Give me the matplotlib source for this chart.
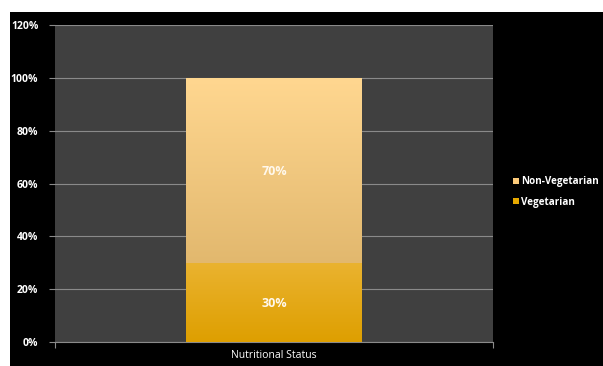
import matplotlib.pyplot as plt
import numpy as np
from matplotlib.patches import Rectangle
from matplotlib.colors import LinearSegmentedColormap

plt.rcParams['font.family'] = ['Open Sans', 'DejaVu Sans']

category = ['Nutritional Status']
series = ['Vegetarian', 'Non-Vegetarian']
values = [30, 70]
labels = ['30%', '70%']
yticks = [0, 20, 40, 60, 80, 100, 120]

# gradient stops, top colour -> bottom colour
grad = {'Vegetarian': ('#EAB330', '#DE9F00'),
        'Non-Vegetarian': ('#FFD790', '#E2B86E')}
swatch = {'Vegetarian': '#E6A800', 'Non-Vegetarian': '#FDCB7A'}

fig = plt.figure(figsize=(6.03, 3.66), dpi=100)
fig.patch.set_facecolor('white')
fig.patches.append(Rectangle((10 / 603, 0), 1, 1 - 12 / 366, transform=fig.transFigure,
                             facecolor='black', edgecolor='none', zorder=-10))

ax = fig.add_axes([55 / 603, 24 / 366, 438 / 603, 317 / 366])
ax.set_facecolor('#404040')

bottom = 0
for name, v, lab in zip(series, values, labels):
    bars = ax.bar(0, v, width=0.4, bottom=bottom, color=swatch[name], label=name,
                  edgecolor='none', zorder=2)
    bar = bars[0]
    cmap = LinearSegmentedColormap.from_list(name, [grad[name][1], grad[name][0]])
    g = np.linspace(0, 1, 256).reshape(-1, 1)
    im = ax.imshow(g, cmap=cmap, aspect='auto', origin='lower',
                   extent=[-0.2, 0.2, bottom, bottom + v], zorder=3)
    im.set_clip_path(bar)
    ax.text(0, bottom + v / 2 - 0.6, lab, ha='center', va='center', color='#FFF8EC',
            fontsize=9, fontweight='bold', zorder=4)
    bottom += v
ax.set_xlim(-0.5, 0.5)
ax.set_ylim(0, 120)

ax.set_yticks(yticks)
ax.set_yticklabels([f'{t}%' for t in yticks])
ax.yaxis.grid(True, color='#8A8A8A', linewidth=0.8)
ax.set_axisbelow(True)
ax.tick_params(axis='y', colors='#8A8A8A', labelcolor='white', labelsize=7.5,
               length=4, width=0.8, pad=8)
for t in ax.get_yticklabels():
    t.set_fontweight('bold')
ax.set_xticks([0])
ax.set_xticklabels(category)
ax.set_xticks([-0.5, 0.5], minor=True)
ax.tick_params(axis='x', which='major', length=0, labelcolor='white', labelsize=7.5, pad=6)
ax.tick_params(axis='x', which='minor', length=4, color='#8A8A8A', width=0.8)
for s in ['top', 'right', 'left']:
    ax.spines[s].set_visible(False)
ax.spines['bottom'].set_color('#8A8A8A')
ax.spines['bottom'].set_linewidth(0.8)

h, l = ax.get_legend_handles_labels()
leg = fig.legend(h[::-1], l[::-1], loc='center left', bbox_to_anchor=(506 / 603, 1 - 192 / 366),
                 frameon=False, handlelength=0.6, handleheight=0.6, handletextpad=0.25,
                 labelspacing=0.95, borderpad=0.2, prop={'size': 7.1, 'weight': 'bold'})
for t in leg.get_texts():
    t.set_color('white')

fig.savefig('out.png', dpi=100, facecolor=fig.get_facecolor())
